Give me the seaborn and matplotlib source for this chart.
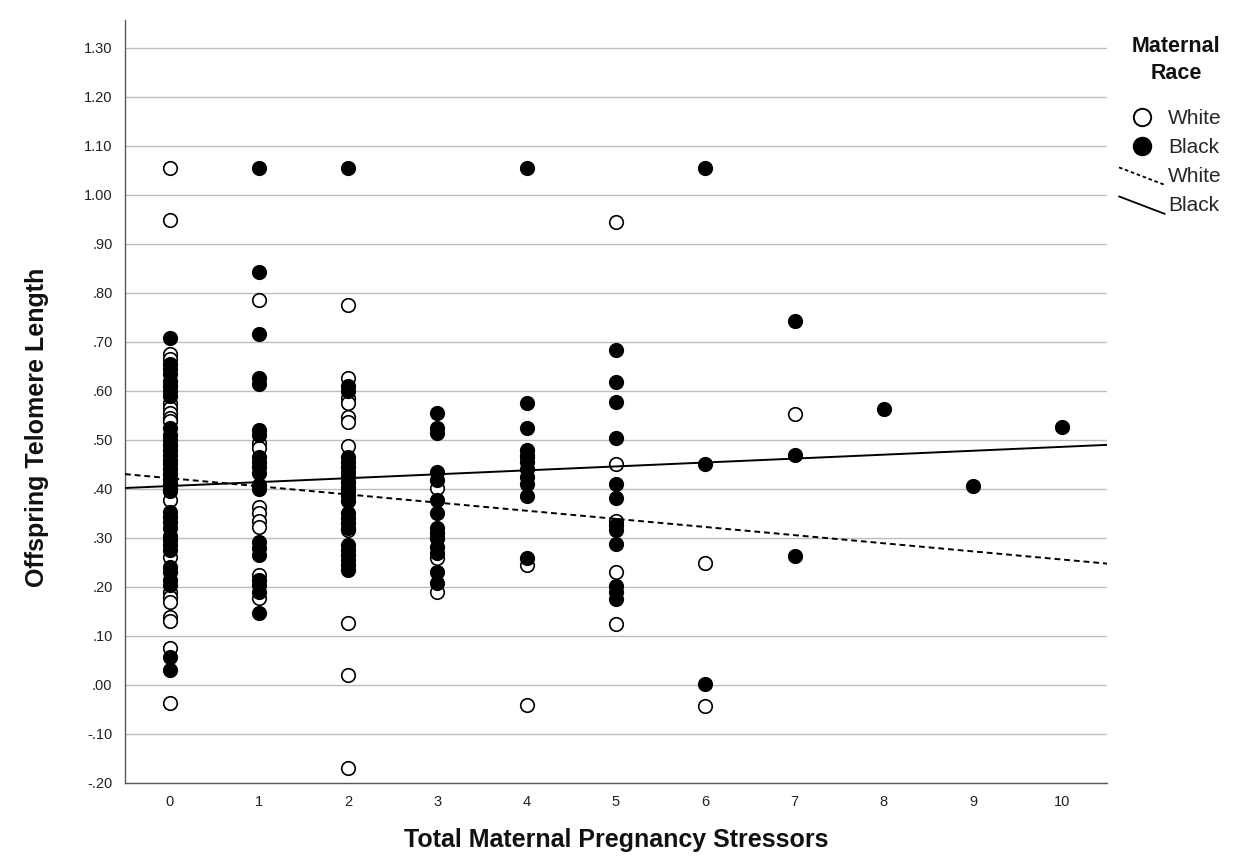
import numpy as np
import pandas as pd
import matplotlib
matplotlib.use("Agg")
import matplotlib.pyplot as plt
import seaborn as sns
from matplotlib.lines import Line2D
from matplotlib.legend_handler import HandlerLine2D
from matplotlib.ticker import FuncFormatter

# ---------------- data ----------------
white_stressors = ([0] * 18 + [1] * 9 + [2] * 11 + [3] * 4 + [4] * 3 + [5] * 5 + [6] * 2 + [7] * 1)
white_telomere = [
    # 0 stressors
    1.055, 0.948, 0.675, 0.665, 0.575, 0.565, 0.555, 0.545, 0.538, 0.378,
    0.261, 0.19, 0.18, 0.17, 0.139, 0.13, 0.075, -0.037,
    # 1
    0.786, 0.494, 0.484, 0.363, 0.35, 0.335, 0.322, 0.225, 0.178,
    # 2
    0.776, 0.627, 0.586, 0.575, 0.547, 0.537, 0.487, 0.316, 0.127, 0.02, -0.17,
    # 3
    0.402, 0.30, 0.259, 0.19,
    # 4
    0.465, 0.245, -0.04,
    # 5
    0.944, 0.45, 0.335, 0.231, 0.125,
    # 6
    0.248, -0.043,
    # 7
    0.553,
]

black_stressors = ([0] * 36 + [1] * 20 + [2] * 23 + [3] * 14 + [4] * 11 + [5] * 12
                   + [6] * 3 + [7] * 3 + [8] * 1 + [9] * 1 + [10] * 1)
black_telomere = [
    # 0 stressors
    0.708, 0.655, 0.645, 0.635, 0.62, 0.61, 0.60, 0.59, 0.525, 0.51,
    0.50, 0.49, 0.48, 0.47, 0.46, 0.45, 0.44, 0.43, 0.42, 0.41,
    0.40, 0.395, 0.353, 0.343, 0.333, 0.32, 0.305, 0.295, 0.285, 0.275,
    0.24, 0.23, 0.215, 0.204, 0.057, 0.03,
    # 1
    1.055, 0.843, 0.716, 0.627, 0.615, 0.52, 0.51, 0.465, 0.455, 0.445,
    0.432, 0.408, 0.40, 0.292, 0.28, 0.265, 0.214, 0.205, 0.19, 0.147,
    # 2
    1.055, 0.61, 0.60, 0.465, 0.455, 0.445, 0.435, 0.425, 0.415, 0.405,
    0.395, 0.385, 0.375, 0.35, 0.34, 0.33, 0.32, 0.285, 0.275, 0.265,
    0.255, 0.245, 0.235,
    # 3
    0.555, 0.525, 0.515, 0.435, 0.418, 0.378, 0.35, 0.32, 0.31, 0.30,
    0.282, 0.27, 0.231, 0.208,
    # 4
    1.055, 0.575, 0.524, 0.48, 0.47, 0.455, 0.44, 0.425, 0.41, 0.385, 0.26,
    # 5
    0.683, 0.619, 0.578, 0.505, 0.411, 0.381, 0.327, 0.316, 0.287, 0.201,
    0.19, 0.176,
    # 6
    1.055, 0.45, 0.003,
    # 7
    0.743, 0.469, 0.263,
    # 8, 9, 10
    0.563, 0.406, 0.526,
]

races = ["White", "Black"]
# fit lines (intercept, slope)
fit_intercept = [0.422, 0.406]
fit_slope = [-0.0166, 0.0080]

x_ticks = list(range(0, 11))
y_ticks = [round(-0.2 + 0.1 * i, 2) for i in range(16)]

df = pd.DataFrame({
    "stressors": white_stressors + black_stressors,
    "telomere": white_telomere + black_telomere,
    "race": ["White"] * len(white_stressors) + ["Black"] * len(black_stressors),
})

# ---------------- figure ----------------
sns.set_theme(style="white")
plt.rcParams["font.family"] = ["Liberation Sans", "DejaVu Sans"]

W, H = 1234, 868
fig = plt.figure(figsize=(W / 100, H / 100), dpi=100)
ax = fig.add_axes([125 / W, 1 - 783 / H, (1107 - 125) / W, (783 - 20) / H])
xlim = (-0.5, 10.5)
ax.set_xlim(*xlim)
ax.set_ylim(-0.2, 1.357)

ax.set_yticks(y_ticks)
ax.set_xticks(x_ticks)
ax.grid(axis="y", color="#bdbdbd", linewidth=1.0, zorder=0)
ax.grid(axis="x", visible=False)
ax.set_axisbelow(True)

def fmt(v, pos):
    s = f"{v:.2f}"
    if s.startswith("0."):
        s = s[1:]
    elif s.startswith("-0."):
        s = "-" + s[2:]
    return s

ax.yaxis.set_major_formatter(FuncFormatter(fmt))

# points (black drawn over white)
palette = {"White": "white", "Black": "black"}
for race in races:
    sub = df[df["race"] == race]
    sns.scatterplot(data=sub, x="stressors", y="telomere", ax=ax,
                    color=palette[race], edgecolor="black", linewidth=1.2,
                    s=95, legend=False, zorder=3)

# fit lines
line_styles = {"White": (0, (3.0, 2.0)), "Black": "-"}
for race, b0, b1 in zip(races, fit_intercept, fit_slope):
    fit_df = pd.DataFrame({"stressors": list(xlim),
                           "telomere": [b0 + b1 * xv for xv in xlim]})
    sns.lineplot(data=fit_df, x="stressors", y="telomere", ax=ax, color="black",
                 linewidth=1.4, linestyle=line_styles[race], zorder=4)

ax.set_xlim(*xlim)
ax.set_ylim(-0.2, 1.357)

for side in ["top", "right"]:
    ax.spines[side].set_visible(False)
for side in ["left", "bottom"]:
    ax.spines[side].set_color("#5a5a5a")
    ax.spines[side].set_linewidth(1.0)

ax.tick_params(axis="both", which="major", direction="out", length=6, width=1,
               color="#5a5a5a", labelsize=10.5, labelcolor="#222222", pad=3)

ax.set_xlabel("Total Maternal Pregnancy Stressors", fontsize=18, fontweight="bold",
              labelpad=13, color="#111111")
ax.set_ylabel("Offspring Telomere Length", fontsize=18, fontweight="bold",
              color="#111111")
ax.yaxis.set_label_coords((37 - 125) / (1107 - 125), (783 - 427) / (783 - 20))
ax.yaxis.label.set_verticalalignment("center")

# legend title
fig.text(1176 / W, 1 - 36 / H, "Maternal\nRace", ha="center", va="top",
         multialignment="center", fontsize=15.5, fontweight="bold",
         linespacing=1.38, color="#111111")

# legend entries
class DiagHandler(HandlerLine2D):
    def create_artists(self, legend, orig_handle, xdescent, ydescent, width, height, fontsize, trans):
        x0, y0 = -xdescent, -ydescent
        line = Line2D([x0, x0 + width], [y0 + height * 1.0, y0 - height * 0.2])
        self.update_prop(line, orig_handle, legend)
        line.set_transform(trans)
        return [line]

handles = [
    Line2D([], [], marker="o", linestyle="none", markerfacecolor="white",
           markeredgecolor="black", markeredgewidth=1.4, markersize=12.5),
    Line2D([], [], marker="o", linestyle="none", markerfacecolor="black",
           markeredgecolor="black", markersize=13),
    Line2D([], [], color="black", linewidth=1.3, linestyle=(0, (2.0, 1.5))),
    Line2D([], [], color="black", linewidth=1.3, linestyle="-"),
]
labels = races + races
leg = fig.legend(handles, labels, loc="upper left",
                 bbox_to_anchor=(1119 / W, 1 - 109 / H), frameon=False,
                 fontsize=15, handlelength=2.2, handletextpad=0.15,
                 labelspacing=0.48, borderpad=0.0, borderaxespad=0.0,
                 handler_map={handles[2]: DiagHandler(), handles[3]: DiagHandler()})

fig.savefig("out.png", dpi=100)
